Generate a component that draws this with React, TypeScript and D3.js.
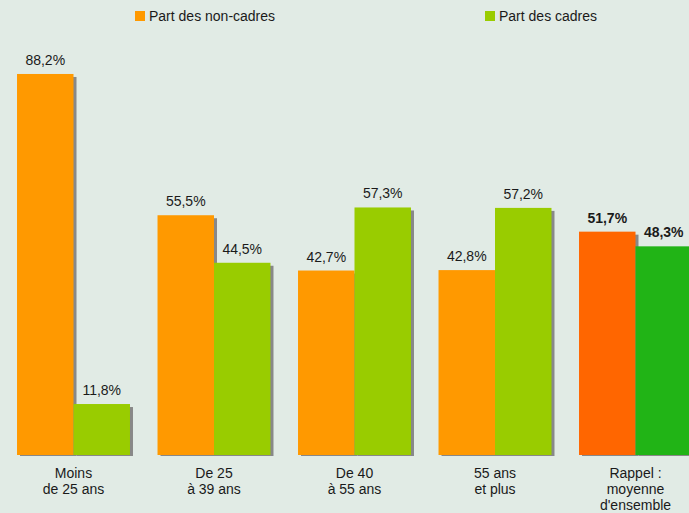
import { useEffect, useRef } from "react";
import * as d3 from "d3";

const categories = [
  ["Moins", "de 25 ans"],
  ["De 25", "à 39 ans"],
  ["De 40", "à 55 ans"],
  ["55 ans", "et plus"],
  ["Rappel :", "moyenne", "d'ensemble"],
];
const seriesNames = ["Part des non-cadres", "Part des cadres"];
const nonCadres = [88.2, 55.5, 42.7, 42.8, 51.7];
const cadres = [11.8, 44.5, 57.3, 57.2, 48.3];

const colors = ["#ff9900", "#99cc00"];
const summaryColors = ["#ff6600", "#21b416"];

const W = 689;
const H = 513;

const fmt = (v: number) => v.toFixed(1).replace(".", ",") + "%";

const App = () => {
  const svgRef = useRef<SVGSVGElement>(null);

  useEffect(() => {
    const svg = d3.select(svgRef.current);
    svg.selectAll("*").remove();

    const idx = categories.map((_, i) => i);
    const x = d3
      .scaleBand<number>()
      .domain(idx)
      .range([3.25, 705.75])
      .paddingInner(0.196)
      .paddingOuter(0.098);
    const inner = d3.scaleBand<number>().domain([0, 1]).range([0, x.bandwidth()]);
    const y = d3.scaleLinear().domain([0, 100]).range([455, 23]);

    svg
      .append("rect")
      .attr("width", W)
      .attr("height", H)
      .attr("fill", "#e1ebe5");

    const rows = idx.map((i) => ({ i, vals: [nonCadres[i], cadres[i]] }));

    const font = "'Liberation Sans', Arial, sans-serif";

    // shadows first
    rows.forEach((r) => {
      r.vals.forEach((v, s) => {
        svg
          .append("rect")
          .attr("x", (x(r.i) || 0) + inner(s)! + 3)
          .attr("y", y(v) + 3)
          .attr("width", inner.bandwidth())
          .attr("height", y(0) - y(v) - 2)
          .attr("fill", "#888888");
      });
    });

    rows.forEach((r) => {
      const last = r.i === categories.length - 1;
      r.vals.forEach((v, s) => {
        const bx = (x(r.i) || 0) + inner(s)!;
        svg
          .append("rect")
          .attr("x", bx)
          .attr("y", y(v))
          .attr("width", inner.bandwidth())
          .attr("height", y(0) - y(v))
          .attr("fill", last ? summaryColors[s] : colors[s]);
        svg
          .append("text")
          .attr("x", bx + inner.bandwidth() / 2)
          .attr("y", y(v) - 9)
          .attr("text-anchor", "middle")
          .attr("font-family", font)
          .attr("font-size", 14)
          .attr("font-weight", last ? "bold" : "normal")
          .attr("fill", "#1a1a1a")
          .text(fmt(v));
      });

      const cx = (x(r.i) || 0) + x.bandwidth() / 2;
      const t = svg
        .append("text")
        .attr("text-anchor", "middle")
        .attr("font-family", font)
        .attr("font-size", 14)
        .attr("fill", "#1a1a1a");
      categories[r.i].forEach((line, k) => {
        t.append("tspan").attr("x", cx).attr("y", 478 + k * 16).text(line);
      });
    });

    // legend
    const legendX = [135, 485];
    seriesNames.forEach((name, s) => {
      svg
        .append("rect")
        .attr("x", legendX[s])
        .attr("y", 11)
        .attr("width", 10)
        .attr("height", 10)
        .attr("fill", colors[s]);
      svg
        .append("text")
        .attr("x", legendX[s] + 14)
        .attr("y", 21)
        .attr("font-family", font)
        .attr("font-size", 14)
        .attr("fill", "#1a1a1a")
        .text(name);
    });
  }, []);

  return (
    <svg
      ref={svgRef}
      width={W}
      height={H}
      style={{ position: "absolute", left: 0, top: 0 }}
    />
  );
};

export default App;
